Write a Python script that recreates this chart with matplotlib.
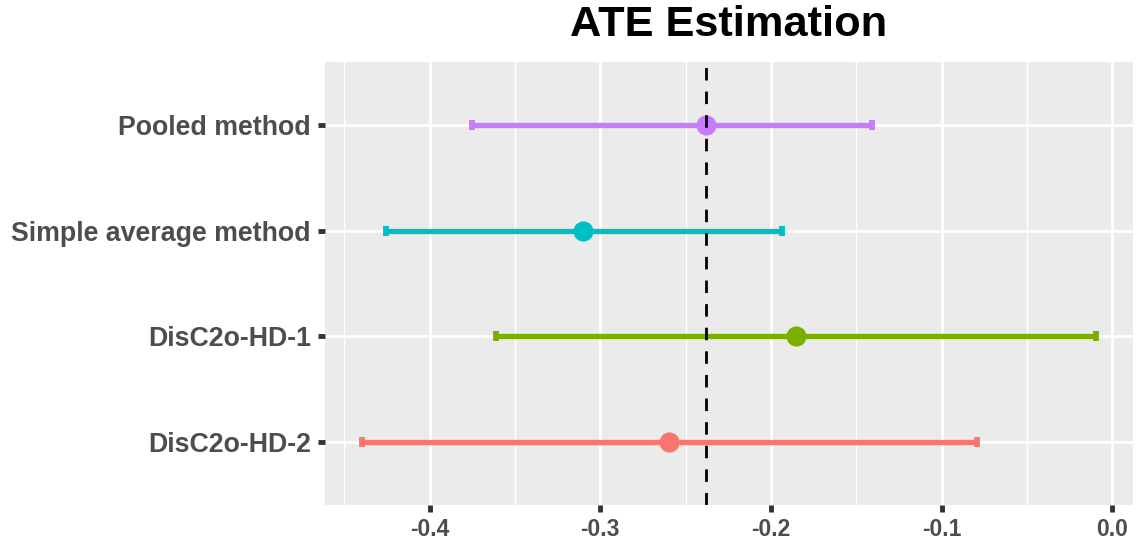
import matplotlib
matplotlib.use("Agg")
import matplotlib.pyplot as plt
from matplotlib.ticker import MultipleLocator

# Estimates with confidence intervals, bottom to top
methods = ["DisC2o-HD-2", "DisC2o-HD-1", "Simple average method", "Pooled method"]
estimates = [-0.2596, -0.1854, -0.310, -0.238]
lower = [-0.4398, -0.3614, -0.4257, -0.3749]
upper = [-0.0795, -0.0094, -0.1936, -0.141]
colors = ["#F8766D", "#7CAE00", "#00BFC4", "#C77CFF"]
reference_value = -0.238
x_ticks = [-0.4, -0.3, -0.2, -0.1, 0.0]

plt.rcParams["font.family"] = ["Liberation Sans", "DejaVu Sans"]

fig = plt.figure(figsize=(11.37, 5.44), dpi=100)
ax = fig.add_axes([325 / 1137, 39 / 544, 808 / 1137, 443 / 544])
ax.set_facecolor("#EBEBEB")

ypos = list(range(1, len(methods) + 1))

for y, est, lo, hi, c in zip(ypos, estimates, lower, upper, colors):
    ax.plot([lo, hi], [y, y], color=c, lw=3.8, solid_capstyle="butt", zorder=3)
    for end in (lo, hi):
        ax.plot([end, end], [y - 0.048, y + 0.048], color=c, lw=4.2,
                solid_capstyle="butt", zorder=3)
    ax.plot([est], [y], marker="o", ms=13.5, color=c, mec=c, zorder=4)

ax.axvline(reference_value, color="black", lw=2.0, ls=(0, (4.5, 4)), zorder=5)

span = max(upper) - min(lower)
ax.set_xlim(min(lower) - 0.05 * span, max(upper) + 0.05 * span)
ax.set_ylim(0.4, len(methods) + 0.6)

ax.set_xticks(x_ticks)
ax.set_xticklabels([f"{v:.1f}" for v in x_ticks])
ax.xaxis.set_minor_locator(MultipleLocator(0.05))
ax.set_yticks(ypos)
ax.set_yticklabels(methods)

ax.grid(which="major", color="white", lw=2.0, zorder=0)
ax.grid(which="minor", axis="x", color="white", lw=1.0, zorder=0)
ax.set_axisbelow(True)

for s in ax.spines.values():
    s.set_visible(False)

ax.tick_params(axis="both", which="major", length=5, width=3.5, color="#333333",
               labelcolor="#4D4D4D", pad=4)
ax.tick_params(axis="x", which="major", labelsize=16.5)
ax.tick_params(axis="y", which="major", labelsize=19.3, pad=5)
ax.tick_params(axis="x", which="minor", length=0)
for lab in ax.get_xticklabels() + ax.get_yticklabels():
    lab.set_fontweight("bold")

fig.text((325 + 1133) / 2 / 1137, 1 - 25 / 544, "ATE Estimation",
         ha="center", va="center", fontsize=31.2, fontweight="bold", color="black")

fig.savefig("out.png", dpi=100, facecolor="white")
